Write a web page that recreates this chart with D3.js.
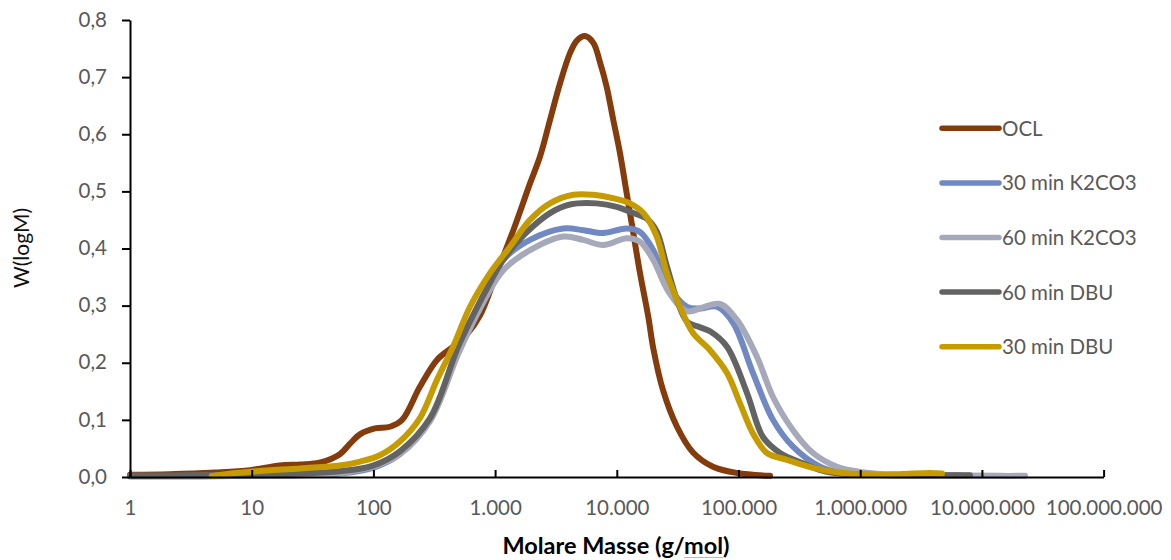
<!DOCTYPE html>
<html>
<head>
<meta charset="utf-8">
<script src="https://cdn.jsdelivr.net/npm/d3@7"></script>
<style>
  html, body { margin: 0; padding: 0; background: #fff; }
  svg { display: block; }
</style>
</head>
<body>
<svg id="chart" width="1171" height="560"></svg>
<script>
// Molar mass distributions (GPC): [M in g/mol, W(logM)]
const ocl = [
  [1, 0.004], [2.1, 0.005], [5, 0.008], [9.7, 0.012], [17, 0.02], [25, 0.022],
  [36, 0.025], [53, 0.04], [64, 0.058], [78, 0.075], [103, 0.085], [137, 0.088],
  [172, 0.10], [241, 0.158], [333, 0.205], [451, 0.228], [587, 0.25], [752, 0.283],
  [1031, 0.357], [1412, 0.432], [1936, 0.514], [2339, 0.561], [2826, 0.625],
  [3415, 0.689], [4123, 0.742], [4700, 0.764], [5478, 0.772], [6413, 0.76],
  [7300, 0.725], [8255, 0.683],
  [9357, 0.625], [10620, 0.567], [12050, 0.497], [13670, 0.427], [15510, 0.357],
  [18160, 0.28], [19950, 0.225], [23970, 0.152], [31240, 0.088], [42290, 0.043],
  [61700, 0.018], [97200, 0.007], [181600, 0.002]
];
const k2co3_30 = [
  [1, 0.001], [3.8, 0.001], [9.7, 0.002], [25, 0.003], [53, 0.006], [99, 0.016],
  [165, 0.04], [292, 0.1], [496, 0.22], [752, 0.30], [1168, 0.38], [1936, 0.415],
  [3636, 0.435], [5305, 0.432], [7748, 0.427], [12050, 0.435], [15510, 0.429],
  [19950, 0.397], [25700, 0.339], [37750, 0.298], [48290, 0.295], [66570, 0.298],
  [90140, 0.27], [131600, 0.182], [192100, 0.10], [280500, 0.053], [467600, 0.018],
  [722300, 0.007], [1202000, 0.004], [3100000, 0.003], [6607000, 0.003]
];
const k2co3_60 = [
  [1, 0.002], [3.8, 0.002], [9.7, 0.003], [25, 0.004], [53, 0.007], [99, 0.018],
  [165, 0.04], [292, 0.098], [496, 0.215], [752, 0.295], [1168, 0.362], [1936, 0.397],
  [3636, 0.421], [5305, 0.415], [7748, 0.406], [12050, 0.418], [15510, 0.412],
  [19950, 0.38], [26500, 0.325], [37750, 0.29], [51070, 0.297], [70450, 0.303],
  [97200, 0.275], [142000, 0.21], [192100, 0.14], [280500, 0.082], [409500, 0.042],
  [644700, 0.018], [995600, 0.009], [1861000, 0.004], [5471000, 0.003],
  [14090000, 0.002], [22610000, 0.002]
];
const dbu_60 = [
  [1, 0.002], [3.8, 0.003], [9.7, 0.004], [25, 0.006], [53, 0.01], [99, 0.02],
  [165, 0.045], [292, 0.103], [496, 0.228], [684, 0.29], [908, 0.34], [1161, 0.38],
  [1750, 0.425], [2826, 0.462], [4123, 0.477], [6840, 0.479], [9977, 0.473],
  [13670, 0.462], [17710, 0.452], [21280, 0.43], [25700, 0.37], [31240, 0.31],
  [37750, 0.272], [48290, 0.262], [58330, 0.255], [80480, 0.228], [117500, 0.147],
  [158900, 0.07], [219400, 0.042], [338800, 0.024], [533900, 0.009], [1202000, 0.004],
  [3100000, 0.003], [7980000, 0.003]
];
const dbu_30 = [
  [4.7, 0.002], [9.7, 0.009], [25, 0.015], [53, 0.02], [78, 0.027], [113, 0.038],
  [165, 0.062], [241, 0.103], [333, 0.17], [451, 0.228], [622, 0.298], [908, 0.357],
  [1325, 0.403], [1936, 0.45], [2826, 0.479], [4393, 0.494], [6413, 0.494],
  [9357, 0.488], [12830, 0.479], [16520, 0.462], [21280, 0.421], [25700, 0.357],
  [33050, 0.298], [42290, 0.252], [58330, 0.222], [80480, 0.182], [102900, 0.129],
  [131600, 0.076], [171500, 0.042], [250300, 0.03], [409500, 0.016], [722300, 0.007],
  [1202000, 0.004], [2124000, 0.005], [3748000, 0.007], [4700000, 0.006]
];

const seriesNames = ["OCL", "30 min K2CO3", "60 min K2CO3", "60 min DBU", "30 min DBU"];
const seriesData = [ocl, k2co3_30, k2co3_60, dbu_60, dbu_30];
const seriesColors = ["#843C0C", "#7089C2", "#A6A9BA", "#636363", "#C59B00"];

const xTicks = [1, 10, 100, 1e3, 1e4, 1e5, 1e6, 1e7, 1e8];
const xTickLabels = ["1", "10", "100", "1.000", "10.000", "100.000", "1.000.000", "10.000.000", "100.000.000"];
const yTicks = [0, 0.1, 0.2, 0.3, 0.4, 0.5, 0.6, 0.7, 0.8];
const yTickLabels = ["0,0", "0,1", "0,2", "0,3", "0,4", "0,5", "0,6", "0,7", "0,8"];

const xTitle = "Molare Masse (g/mol)";
const yTitle = "W(logM)";

const FONT = "Lato, 'Open Sans', sans-serif";
const svg = d3.select("#chart");

const x = d3.scaleLog().domain([1, 1e8]).range([130, 1103.6]);
const y = d3.scaleLinear().domain([0, 0.8]).range([477, 20]);

// smoothed curves (first series drawn at the bottom)
const line = d3.line()
  .x(d => x(d[0]))
  .y(d => y(d[1]))
  .curve(d3.curveCatmullRom.alpha(0.5));

svg.append("g")
  .selectAll("path")
  .data(seriesData)
  .join("path")
  .attr("d", d => line(d))
  .attr("fill", "none")
  .attr("stroke", (d, i) => seriesColors[i])
  .attr("stroke-width", 6)
  .attr("stroke-linecap", "round")
  .attr("stroke-linejoin", "round");

// x axis: ticks point up into the plot
const xAxis = svg.append("g")
  .attr("transform", `translate(0,${y(0)})`)
  .call(d3.axisBottom(x)
    .tickValues(xTicks)
    .tickSize(-7)
    .tickSizeOuter(0)
    .tickFormat((d, i) => xTickLabels[i]));
xAxis.select(".domain").attr("stroke", "#000").attr("stroke-width", 2);
xAxis.selectAll(".tick line").attr("stroke", "#000").attr("stroke-width", 2);
xAxis.selectAll(".tick text")
  .attr("y", 38).attr("dy", 0)
  .attr("fill", "#595959")
  .style("font-family", FONT).style("font-size", "20.5px");

// y axis: ticks point outward
const yAxis = svg.append("g")
  .attr("transform", `translate(${x(1)},0)`)
  .call(d3.axisLeft(y)
    .tickValues(yTicks)
    .tickSize(8)
    .tickSizeOuter(0)
    .tickPadding(15)
    .tickFormat((d, i) => yTickLabels[i]));
yAxis.select(".domain").attr("stroke", "#000").attr("stroke-width", 2);
yAxis.selectAll(".tick line").attr("stroke", "#000").attr("stroke-width", 2);
yAxis.selectAll(".tick text")
  .attr("dy", "0.3em")
  .attr("fill", "#595959")
  .style("font-family", FONT).style("font-size", "20.5px");

// axis titles
const xt = svg.append("text")
  .attr("x", 616).attr("y", 554)
  .attr("text-anchor", "middle")
  .attr("fill", "#000")
  .style("font-family", FONT).style("font-size", "23.5px").style("font-weight", "bold")
  .text(xTitle);

// thin underline beneath the unit "mol"
const node = xt.node();
const idx = xTitle.indexOf("mol");
if (idx >= 0 && node.getStartPositionOfChar) {
  const sx = node.getStartPositionOfChar(idx).x;
  const ex = node.getEndPositionOfChar(idx + 2).x;
  svg.append("line")
    .attr("x1", sx).attr("x2", ex)
    .attr("y1", 557.5).attr("y2", 557.5)
    .attr("stroke", "#F2A0A0").attr("stroke-width", 1);
}

svg.append("text")
  .attr("transform", "translate(29,248) rotate(-90)")
  .attr("text-anchor", "middle")
  .attr("fill", "#111")
  .style("font-family", FONT).style("font-size", "21px")
  .text(yTitle);

// legend
const legend = svg.append("g")
  .selectAll("g")
  .data(seriesNames)
  .join("g")
  .attr("transform", (d, i) => `translate(0,${128.3 + i * 54.6})`);
legend.append("line")
  .attr("x1", 942).attr("x2", 999)
  .attr("stroke", (d, i) => seriesColors[i])
  .attr("stroke-width", 5.5)
  .attr("stroke-linecap", "round");
legend.append("text")
  .attr("x", 1002).attr("y", 7.4)
  .attr("fill", "#595959")
  .style("font-family", FONT).style("font-size", "20.5px")
  .text(d => d);
</script>
</body>
</html>
